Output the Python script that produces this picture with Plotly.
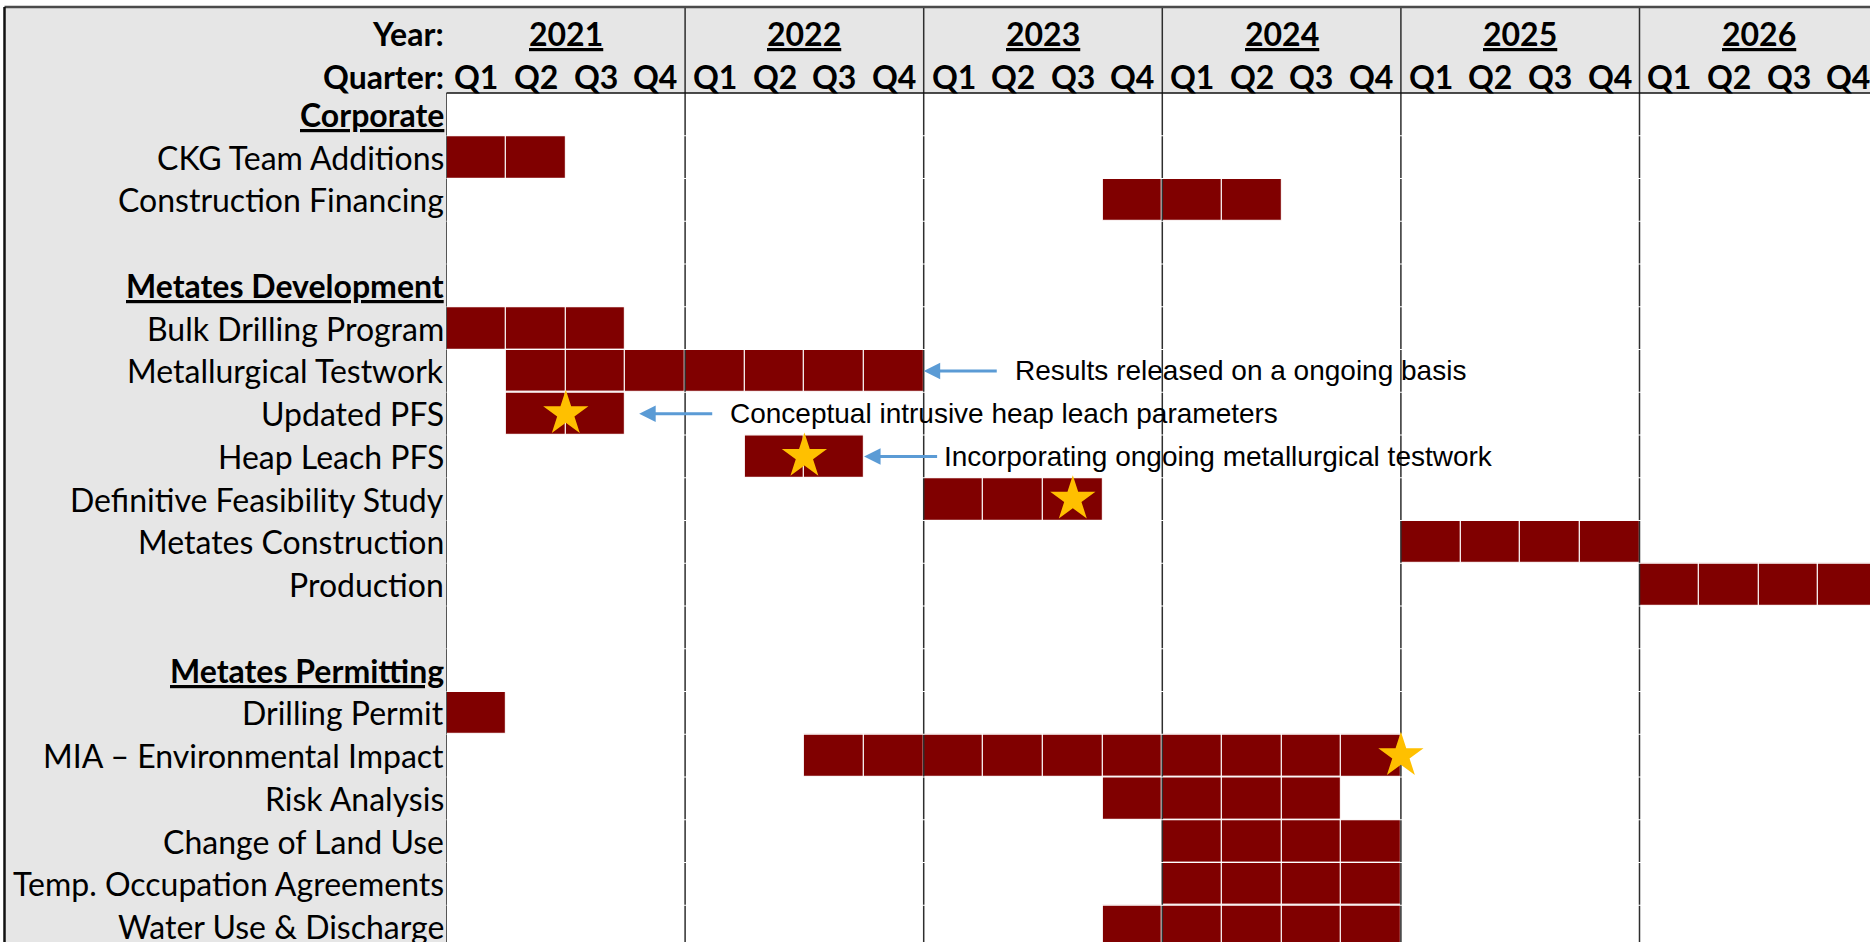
import plotly.graph_objects as go

# ---------------- data ----------------
years = ["2021", "2022", "2023", "2024", "2025", "2026"]
quarters = ["Q1", "Q2", "Q3", "Q4"]

row_labels = [
    "Corporate",
    "CKG Team Additions",
    "Construction Financing",
    "",
    "Metates Development",
    "Bulk Drilling Program",
    "Metallurgical Testwork",
    "Updated PFS",
    "Heap Leach PFS",
    "Definitive Feasibility Study",
    "Metates Construction",
    "Production",
    "",
    "Metates Permitting",
    "Drilling Permit",
    "MIA – Environmental Impact",
    "Risk Analysis",
    "Change of Land Use",
    "Temp. Occupation Agreements",
    "Water Use & Discharge",
]
section_labels = ["Corporate", "Metates Development", "Metates Permitting"]

# activity -> first quarter (0 = Q1 2021) and length in quarters
task_names = [
    "CKG Team Additions",
    "Construction Financing",
    "Bulk Drilling Program",
    "Metallurgical Testwork",
    "Updated PFS",
    "Heap Leach PFS",
    "Definitive Feasibility Study",
    "Metates Construction",
    "Production",
    "Drilling Permit",
    "MIA – Environmental Impact",
    "Risk Analysis",
    "Change of Land Use",
    "Temp. Occupation Agreements",
    "Water Use & Discharge",
]
task_start = [0, 11, 0, 1, 1, 5, 8, 16, 20, 0, 6, 11, 12, 12, 11]
task_quarters = [2, 3, 3, 7, 2, 2, 3, 4, 4, 1, 10, 4, 4, 4, 5]

# milestones (quarter position, 0 = start of 2021)
milestone_tasks = [
    "Updated PFS",
    "Heap Leach PFS",
    "Definitive Feasibility Study",
    "MIA – Environmental Impact",
]
milestone_at = [2.0, 6.0, 10.5, 16.0]

# call-out notes
note_tasks = ["Metallurgical Testwork", "Updated PFS", "Heap Leach PFS"]
note_texts = [
    "Results released on a ongoing basis",
    "Conceptual intrusive heap leach parameters",
    "Incorporating ongoing metallurgical testwork",
]

# ---------------- geometry / style ----------------
W, H = 1870, 942
GRID_X0 = 446.5   # px, left edge of quarter grid
QW = 59.65        # px per quarter
HEAD_Y1 = 93.0    # px, bottom of header band
RH = 42.75        # px per row
TOP_Y = 7.0       # px, top frame line
LEFT_X = 4.5      # px, left frame line

BAR_RED = "#800000"
STAR = "#FFC000"
ARROW = "#5B9BD5"
GREY = "#E6E6E6"
LABEL_FONT = "Lato"
NOTE_FONT = "Liberation Sans"
LABEL_SIZE = 32
NOTE_SIZE = 28

note_gap = [0.0, 0.23, 0.0]     # space between bar end and arrow tip (quarters)
note_len = 1.25                 # arrow length (quarters)
note_pad = [0.24, 0.24, 0.06]   # arrow tail to text (quarters)


def xd(px):
    return (px - GRID_X0) / QW


def yd(py):
    return (py - HEAD_Y1) / RH


XMIN, XMAX = xd(0), xd(W)
YTOP, YBOT = yd(0), yd(H)
n_q = len(years) * len(quarters)

row_of = {lab: i for i, lab in enumerate(row_labels) if lab}
task_end = {n: s + d for n, s, d in zip(task_names, task_start, task_quarters)}

fig = go.Figure()

# one cell per quarter for each activity
cell_x, cell_y = [], []
for name, s, d in zip(task_names, task_start, task_quarters):
    for q in range(s, s + d):
        cell_x.append(q)
        cell_y.append(row_of[name] + 0.5)

fig.add_trace(go.Bar(
    orientation="h",
    base=cell_x,
    x=[1] * len(cell_x),
    y=cell_y,
    width=1.0,
    marker=dict(color=BAR_RED, line=dict(color="rgba(255,255,255,0.85)", width=1.2)),
    hoverinfo="skip",
    showlegend=False,
))

# year separators (run through the header)
yl_x, yl_y = [], []
for k in range(1, len(years) + 1):
    yl_x += [4 * k, 4 * k, None]
    yl_y += [yd(TOP_Y), YBOT, None]
fig.add_trace(go.Scatter(x=yl_x, y=yl_y, mode="lines",
                         line=dict(color="#2e2e2e", width=1.5),
                         hoverinfo="skip", showlegend=False))

# left edge of the grid
fig.add_trace(go.Scatter(x=[0, 0], y=[0, YBOT], mode="lines",
                         line=dict(color="#555555", width=1),
                         hoverinfo="skip", showlegend=False))

# thin white row breaks across the grid
rb_x, rb_y = [], []
for r in range(1, len(row_labels)):
    rb_x += [0, XMAX, None]
    rb_y += [r, r, None]
fig.add_trace(go.Scatter(x=rb_x, y=rb_y, mode="lines",
                         line=dict(color="white", width=1),
                         hoverinfo="skip", showlegend=False))

# milestone stars
fig.add_trace(go.Scatter(
    x=milestone_at,
    y=[row_of[t] + 0.5 for t in milestone_tasks],
    mode="markers",
    marker=dict(symbol="star", size=34, color=STAR, line=dict(width=0)),
    hoverinfo="skip",
    showlegend=False,
))

shapes = [
    # header band
    dict(type="rect", xref="x", yref="y", x0=xd(LEFT_X), x1=XMAX, y0=yd(TOP_Y), y1=0,
         fillcolor=GREY, line=dict(width=0), layer="below"),
    # label column
    dict(type="rect", xref="x", yref="y", x0=xd(LEFT_X), x1=0, y0=0, y1=YBOT,
         fillcolor=GREY, line=dict(width=0), layer="below"),
    # header bottom rule
    dict(type="line", xref="x", yref="y", x0=0, x1=XMAX, y0=0, y1=0,
         line=dict(color="#111111", width=1.5), layer="above"),
    # outer frame
    dict(type="line", xref="x", yref="y", x0=xd(LEFT_X), x1=XMAX, y0=yd(TOP_Y), y1=yd(TOP_Y),
         line=dict(color="#4a4a4a", width=2.5), layer="above"),
    dict(type="line", xref="x", yref="y", x0=xd(LEFT_X), x1=xd(LEFT_X), y0=yd(TOP_Y), y1=YBOT,
         line=dict(color="#111111", width=2.5), layer="above"),
]

ann = []
lab_x = -0.005
hdr_y_year = yd(33)
hdr_y_q = yd(76)
ann.append(dict(x=lab_x, y=hdr_y_year, text="<b>Year:</b>", xanchor="right"))
ann.append(dict(x=lab_x, y=hdr_y_q, text="<b>Quarter:</b>", xanchor="right"))
for i, yr in enumerate(years):
    ann.append(dict(x=4 * i + 2, y=hdr_y_year, text=f"<b><u>{yr}</u></b>", xanchor="center"))
for q in range(n_q):
    ann.append(dict(x=q + 0.5, y=hdr_y_q, text=f"<b>{quarters[q % 4]}</b>", xanchor="center"))

for i, lab in enumerate(row_labels):
    if not lab:
        continue
    txt = f"<b><u>{lab}</u></b>" if lab in section_labels else lab
    ann.append(dict(x=lab_x, y=i + 0.5, text=txt, xanchor="right"))

for a in ann:
    a.update(xref="x", yref="y", yanchor="middle", showarrow=False,
             font=dict(family=LABEL_FONT, size=LABEL_SIZE, color="black"))

# call-out arrows and their text
for name, txt, gap, pad in zip(note_tasks, note_texts, note_gap, note_pad):
    yy = row_of[name] + 0.5
    tip = task_end[name] + gap
    tail = tip + note_len
    ann.append(dict(x=tip, y=yy, ax=tail, ay=yy, xref="x", yref="y", axref="x", ayref="y",
                    text="", showarrow=True, arrowhead=2, arrowsize=1.1, arrowwidth=3,
                    arrowcolor=ARROW, standoff=0))
    ann.append(dict(x=tail + pad, y=yy, xref="x", yref="y", text=txt,
                    xanchor="left", yanchor="middle", showarrow=False,
                    font=dict(family=NOTE_FONT, size=NOTE_SIZE, color="black")))

fig.update_layout(
    width=W, height=H,
    margin=dict(l=0, r=0, t=0, b=0),
    paper_bgcolor="white", plot_bgcolor="white",
    xaxis=dict(range=[XMIN, XMAX], visible=False, fixedrange=True),
    yaxis=dict(range=[YBOT, YTOP], visible=False, fixedrange=True),
    shapes=shapes,
    annotations=ann,
    bargap=0,
    showlegend=False,
)

fig.write_html("out.html", post_script="document.body.style.margin='0';")
